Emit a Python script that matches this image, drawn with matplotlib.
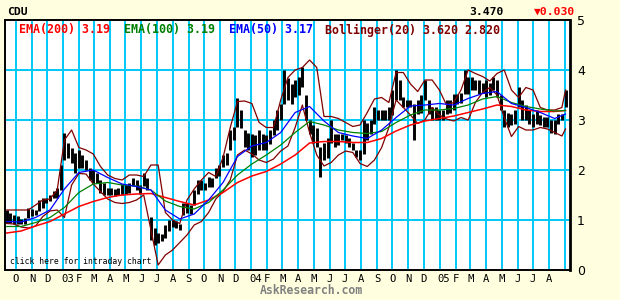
import matplotlib
matplotlib.use('Agg')
import matplotlib.pyplot as plt
import matplotlib.transforms as mtransforms
import pandas as pd

# weekly price ranges
week_dates = pd.date_range('2002-09-13', periods=156, freq='7D')
bar_high = [1.2, 1.15, 1.1, 1.08, 1.02, 1.05, 1.25, 1.22, 1.2, 1.4,
            1.45, 1.45, 1.5, 1.58, 1.65, 2.1, 2.75, 2.55, 2.45, 2.35,
            2.4, 2.3, 2.2, 2.05, 2.0, 1.95, 1.8, 1.75, 1.65, 1.65,
            1.62, 1.65, 1.72, 1.7, 1.75, 1.85, 1.8, 1.7, 1.95, 1.85,
            1.07, 0.85, 0.75, 0.72, 0.9, 1.0, 1.0, 0.98, 0.92, 1.35,
            1.35, 1.3, 1.6, 1.8, 1.8, 1.75, 1.87, 1.85, 2.05, 2.1,
            2.3, 2.35, 2.8, 2.87, 3.45, 3.2, 2.8, 2.75, 2.73, 2.7,
            2.8, 2.73, 2.7, 2.8, 3.0, 3.2, 3.33, 4.0, 3.85, 3.73,
            3.8, 3.87, 4.07, 3.5, 3.0, 2.9, 2.85, 2.47, 2.55, 2.65,
            3.0, 2.73, 2.73, 2.73, 2.7, 2.65, 2.55, 2.4, 2.4, 3.0,
            2.95, 3.0, 3.27, 3.2, 3.2, 3.2, 3.27, 3.6, 4.0, 3.8,
            3.47, 3.4, 3.4, 3.33, 3.4, 3.5, 3.8, 3.4, 3.27, 3.27,
            3.2, 3.2, 3.4, 3.4, 3.53, 3.53, 3.55, 4.0, 3.87, 3.87,
            3.8, 3.8, 3.75, 3.8, 3.75, 3.87, 3.8, 3.5, 3.2, 3.15,
            3.13, 3.2, 3.67, 3.4, 3.3, 3.2, 3.13, 3.2, 3.1, 3.07,
            3.07, 3.0, 3.0, 3.13, 3.13, 3.6]
bar_low = [0.95, 0.95, 0.92, 0.93, 0.92, 0.93, 1.05, 1.08, 1.1, 1.18,
           1.25, 1.35, 1.38, 1.45, 1.45, 1.6, 2.2, 2.25, 2.15, 1.95,
           2.05, 2.05, 2.0, 1.8, 1.75, 1.75, 1.55, 1.5, 1.5, 1.5,
           1.48, 1.5, 1.5, 1.52, 1.55, 1.68, 1.6, 1.52, 1.68, 1.6,
           0.6, 0.5, 0.55, 0.58, 0.65, 0.78, 0.87, 0.85, 0.8, 1.1,
           1.15, 1.12, 1.3, 1.53, 1.6, 1.6, 1.67, 1.67, 1.85, 1.88,
           2.07, 2.1, 2.4, 2.6, 2.87, 2.85, 2.47, 2.4, 2.27, 2.3,
           2.4, 2.4, 2.4, 2.53, 2.7, 2.8, 3.0, 3.33, 3.4, 3.33,
           3.47, 3.5, 3.67, 3.0, 2.73, 2.55, 2.47, 1.87, 2.2, 2.25,
           2.55, 2.47, 2.5, 2.6, 2.55, 2.47, 2.4, 2.27, 2.2, 2.33,
           2.6, 2.73, 2.93, 3.0, 3.0, 3.0, 3.0, 3.1, 3.4, 3.4,
           3.27, 3.27, 3.27, 2.6, 3.13, 3.15, 3.4, 3.13, 3.0, 3.0,
           3.0, 3.0, 3.13, 3.15, 3.2, 3.33, 3.35, 3.53, 3.53, 3.6,
           3.6, 3.53, 3.55, 3.47, 3.5, 3.6, 3.47, 3.2, 2.87, 2.87,
           2.9, 2.93, 3.27, 3.0, 3.0, 2.93, 2.87, 2.93, 2.9, 2.87,
           2.87, 2.75, 2.73, 2.93, 3.0, 3.27]

# moving averages, sampled every 4 weeks
ema_dates = list(week_dates[::4]) + [week_dates[-1]]
ema200 = [0.74, 0.78, 0.88, 0.97, 1.12, 1.27, 1.37, 1.45, 1.5, 1.52,
          1.53, 1.45, 1.37, 1.3, 1.4, 1.55, 1.75, 1.88, 1.97, 2.12,
          2.3, 2.54, 2.57, 2.57, 2.55, 2.55, 2.63, 2.78, 2.9, 2.98,
          3.03, 3.08, 3.15, 3.22, 3.3, 3.27, 3.2, 3.17, 3.17, 3.19]
ema100 = [0.87, 0.87, 0.95, 1.05, 1.25, 1.55, 1.72, 1.75, 1.7, 1.68,
          1.6, 1.38, 1.27, 1.22, 1.35, 1.6, 1.9, 2.12, 2.3, 2.5,
          2.75, 2.97, 2.9, 2.8, 2.75, 2.73, 2.77, 2.95, 3.1, 3.2,
          3.2, 3.23, 3.3, 3.42, 3.47, 3.35, 3.27, 3.22, 3.18, 3.19]
ema50 = [0.97, 0.96, 1.05, 1.2, 1.62, 1.95, 2.0, 1.85, 1.72, 1.67,
         1.6, 1.2, 1.02, 1.12, 1.4, 1.75, 2.27, 2.48, 2.55, 2.75,
         3.15, 3.27, 2.98, 2.75, 2.68, 2.63, 2.8, 3.05, 3.28, 3.3,
         3.33, 3.3, 3.43, 3.53, 3.57, 3.33, 3.25, 3.15, 3.03, 3.12]

# bollinger bands, sampled every 2 weeks
boll_dates = list(week_dates[::2]) + [week_dates[-1]]
boll_upper = [1.2, 1.2, 1.2, 1.2, 1.3, 1.4, 1.42, 1.6, 2.6, 2.8,
              2.45, 2.4, 2.32, 2.07, 1.9, 1.83, 1.8, 1.9, 1.9, 1.87,
              2.1, 2.1, 1.15, 1.0, 0.93, 1.4, 1.62, 1.8, 1.95, 1.87,
              2.25, 2.85, 3.37, 3.38, 3.33, 2.95, 2.85, 2.85, 3.4, 3.85,
              4.0, 4.05, 4.2, 4.05, 3.07, 3.07, 3.03, 2.95, 2.87, 2.9,
              3.15, 3.42, 3.45, 3.35, 3.95, 3.95, 3.72, 3.57, 3.8, 3.8,
              3.6, 3.3, 3.35, 3.6, 4.0, 3.93, 3.87, 3.78, 3.93, 4.0,
              3.6, 3.45, 3.65, 3.6, 3.25, 3.2, 3.2, 3.25, 3.6]
boll_lower = [0.93, 0.92, 0.86, 0.84, 0.88, 1.07, 1.18, 1.2, 1.05, 1.7,
              1.93, 1.92, 1.72, 1.57, 1.42, 1.35, 1.33, 1.35, 1.4, 1.5,
              0.8, 0.1, 0.3, 0.4, 0.55, 0.7, 0.9, 0.97, 1.15, 1.42,
              1.57, 1.8, 2.3, 2.4, 2.32, 2.2, 2.15, 2.22, 2.38, 2.48,
              2.85, 3.3, 2.75, 2.3, 2.08, 2.15, 2.3, 2.38, 2.35, 2.13,
              2.07, 2.2, 2.45, 2.85, 3.4, 3.25, 3.1, 2.93, 3.0, 3.25,
              3.1, 3.02, 2.98, 3.05, 3.0, 3.35, 3.55, 3.65, 3.5, 3.05,
              2.67, 2.87, 2.8, 2.8, 2.85, 2.82, 2.75, 2.68, 2.82]

month_starts = pd.date_range('2002-10-01', '2005-09-01', freq='MS')
month_labels = ['O', 'N', 'D',
                '03', 'F', 'M', 'A', 'M', 'J', 'J', 'A', 'S', 'O', 'N', 'D',
                '04', 'F', 'M', 'A', 'M', 'J', 'J', 'A', 'S', 'O', 'N', 'D',
                '05', 'F', 'M', 'A', 'M', 'J', 'J', 'A', '']

bg = '#FFFFE0'
grid_c = '#00C8F8'
mono = 'DejaVu Sans Mono'

fig = plt.figure(figsize=(6.2, 3.0), dpi=100, facecolor=bg)
ax = fig.add_axes([5 / 620, 30 / 300, 565 / 620, 250 / 300])
ax.set_facecolor('white')

ax.set_xlim(pd.Timestamp('2002-09-09 15:00'), pd.Timestamp('2005-09-10 17:00'))
ax.set_ylim(0, 5)

for d in month_starts:
    ax.axvline(d, color=grid_c, lw=1.4, zorder=1)
for v in [1, 2, 3, 4]:
    ax.axhline(v, color=grid_c, lw=1.4, zorder=1)

ax.vlines(week_dates, bar_low, bar_high, color='black', lw=2.1, zorder=2)

ax.plot(boll_dates, boll_upper, color='#800000', lw=0.9, zorder=3)
ax.plot(boll_dates, boll_lower, color='#800000', lw=0.9, zorder=3)
ax.plot(ema_dates, ema200, color='#FF0000', lw=1.1, zorder=4)
ax.plot(ema_dates, ema100, color='#008000', lw=0.9, zorder=4)
ax.plot(ema_dates, ema50, color='#0000FF', lw=0.9, zorder=4)

ax.set_xticks(month_starts)
ax.set_xticklabels(month_labels, fontsize=7.6, family=mono)
ax.tick_params(axis='x', length=0, pad=3)
shift = mtransforms.ScaledTranslation(4 / 100, 0, fig.dpi_scale_trans)
for lab, txt in zip(ax.get_xticklabels(), month_labels):
    if txt[:1].isdigit():
        lab.set_transform(lab.get_transform() + shift)

ax.yaxis.tick_right()
ax.set_yticks([0, 1, 2, 3, 4, 5])
ax.set_yticklabels(['0', '1', '2', '3', '4', '5'], fontsize=9, family='DejaVu Sans')
ax.tick_params(axis='y', length=0, pad=5)

for s in ['left', 'top', 'bottom']:
    ax.spines[s].set_linewidth(1.4)
ax.spines['right'].set_linewidth(2.0)

def px(x, y):
    return x / 620, 1 - y / 300

fig.text(*px(7, 12), 'CDU', family=mono, weight='bold', fontsize=8.2, va='center')
fig.text(*px(504, 12), '3.470', family=mono, weight='bold', fontsize=8.2,
         va='center', ha='right')
fig.text(*px(575, 12), '▼0.030', family=mono, weight='bold', fontsize=8.2,
         va='center', ha='right', color='#FF0000')

fig.text(*px(19, 30), 'EMA(200) 3.19', family=mono, weight='bold', fontsize=8.4,
         va='center', color='#FF0000')
fig.text(*px(124, 30), 'EMA(100) 3.19', family=mono, weight='bold', fontsize=8.4,
         va='center', color='#008000')
fig.text(*px(229, 30), 'EMA(50) 3.17', family=mono, weight='bold', fontsize=8.4,
         va='center', color='#0000FF')
fig.text(*px(325, 30), 'Bollinger(20) 3.620 2.820', family=mono, weight='bold',
         fontsize=8.4, va='center', color='#800000')

fig.text(*px(10, 262), 'click here for intraday chart', family=mono, fontsize=5.9,
         va='center')
fig.text(*px(260, 291), 'AskResearch.com', family=mono, weight='bold', fontsize=8.3,
         va='center', color='#808080')

fig.savefig('out.png', dpi=100, facecolor=bg)
